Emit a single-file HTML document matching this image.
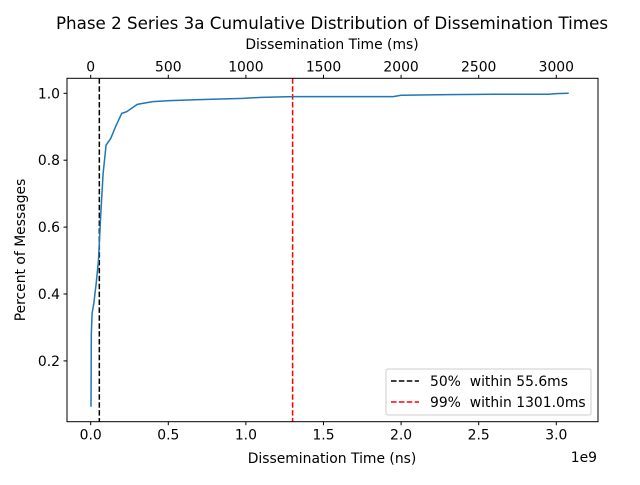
<!DOCTYPE html>
<html><head><meta charset="utf-8"><style>
body{margin:0;background:#fff;font-family:"Liberation Sans","DejaVu Sans",sans-serif}
svg text{font-family:"DejaVu Sans","Liberation Sans",sans-serif;white-space:pre}
</style></head><body>
<svg width="640" height="480" xmlns="http://www.w3.org/2000/svg">
<rect width="640" height="480" fill="#fff"/>
<g id="g"></g>
</svg>
<script>
const xsNs=[0.002,0.004,0.009,0.02,0.035,0.05,0.065,0.08,0.099,0.129,0.16,0.2,0.232,0.3,0.4,0.51,0.7,0.98,1.1,1.3,1.6,1.95,2.0,2.3,2.6,2.95,3.0,3.08];
const ysPct=[0.063,0.28,0.342,0.372,0.43,0.5,0.64,0.76,0.845,0.865,0.9,0.94,0.945,0.967,0.975,0.978,0.981,0.985,0.988,0.99,0.99,0.99,0.994,0.996,0.997,0.997,0.999,1.0];
const xTicks=[0,0.5,1.0,1.5,2.0,2.5,3.0];
const xTickLabels=["0.0","0.5","1.0","1.5","2.0","2.5","3.0"];
const yTicks=[0.2,0.4,0.6,0.8,1.0];
const yTickLabels=["0.2","0.4","0.6","0.8","1.0"];
const topTicks=[0,500,1000,1500,2000,2500,3000];
const p50=0.0556, p99=1.301;
const L=67,R=598,T=78.3,B=421.7;
const FS=13.9;
const X=v=>90.7+v*155.2;
const Y=v=>93.3+(1-v)*334.5;
const NS="http://www.w3.org/2000/svg";
const g=document.getElementById('g');
function mk(t,a,txt){const e=document.createElementNS(NS,t);for(const k in a)e.setAttribute(k,a[k]);if(txt!==undefined)e.textContent=txt;g.appendChild(e);return e;}
let e;
e=mk('line',{x1:X(p50),x2:X(p50),y1:T,y2:B,stroke:'#000','stroke-width':1.5,'stroke-dasharray':'5.5,2.4'});


e=mk('line',{x1:X(p99),x2:X(p99),y1:T,y2:B,stroke:'#ff0000','stroke-width':1.5,'stroke-dasharray':'5.5,2.4'});


e=mk('polyline',{points:xsNs.map((x,i)=>X(x)+','+Y(ysPct[i])).join(' '),fill:'none',stroke:'#1f77b4','stroke-width':1.5});


e=mk('rect',{x:L,y:T,width:R-L,height:B-T,fill:'none',stroke:'#000','stroke-width':1});


xTicks.forEach((v,i)=>{mk('line',{x1:X(v),x2:X(v),y1:B,y2:B+3.5,stroke:'#000'});
e=mk('text',{x:X(v),y:B+18,'font-size':FS,'text-anchor':'middle'},xTickLabels[i]);

});
topTicks.forEach(v=>{const px=X(v/1000);mk('line',{x1:px,x2:px,y1:T,y2:T-3.5,stroke:'#000'});
e=mk('text',{x:px,y:T-7,'font-size':FS,'text-anchor':'middle'},String(v));

});
yTicks.forEach((v,i)=>{mk('line',{x1:L,x2:L-3.5,y1:Y(v),y2:Y(v),stroke:'#000'});
e=mk('text',{x:L-7,y:Y(v)+5,'font-size':FS,'text-anchor':'end'},yTickLabels[i]);

});
e=mk('text',{x:332,y:29,'font-size':16.7,'text-anchor':'middle'},'Phase 2 Series 3a Cumulative Distribution of Dissemination Times');


e=mk('text',{x:332,y:49,'font-size':FS,'text-anchor':'middle'},'Dissemination Time (ms)');


e=mk('text',{x:332,y:463,'font-size':FS,'text-anchor':'middle'},'Dissemination Time (ns)');


e=mk('text',{x:597,y:462,'font-size':FS,'text-anchor':'end'},'1e9');


e=mk('text',{x:25,y:250,'font-size':FS,'text-anchor':'middle',transform:'rotate(-90 25 250)'},'Percent of Messages');


e=mk('rect',{x:386,y:369,width:205,height:46,fill:'#fff',stroke:'#ccc',rx:2});


mk('line',{x1:391,x2:419,y1:381,y2:381,stroke:'#000','stroke-width':1.5,'stroke-dasharray':'5.5,2.4'});
e=mk('text',{x:430,y:386,'font-size':FS},'50%  within 55.6ms');


mk('line',{x1:391,x2:419,y1:402,y2:402,stroke:'#ff0000','stroke-width':1.5,'stroke-dasharray':'5.5,2.4'});
e=mk('text',{x:430,y:407,'font-size':FS},'99%  within 1301.0ms');


</script>
</body></html>
